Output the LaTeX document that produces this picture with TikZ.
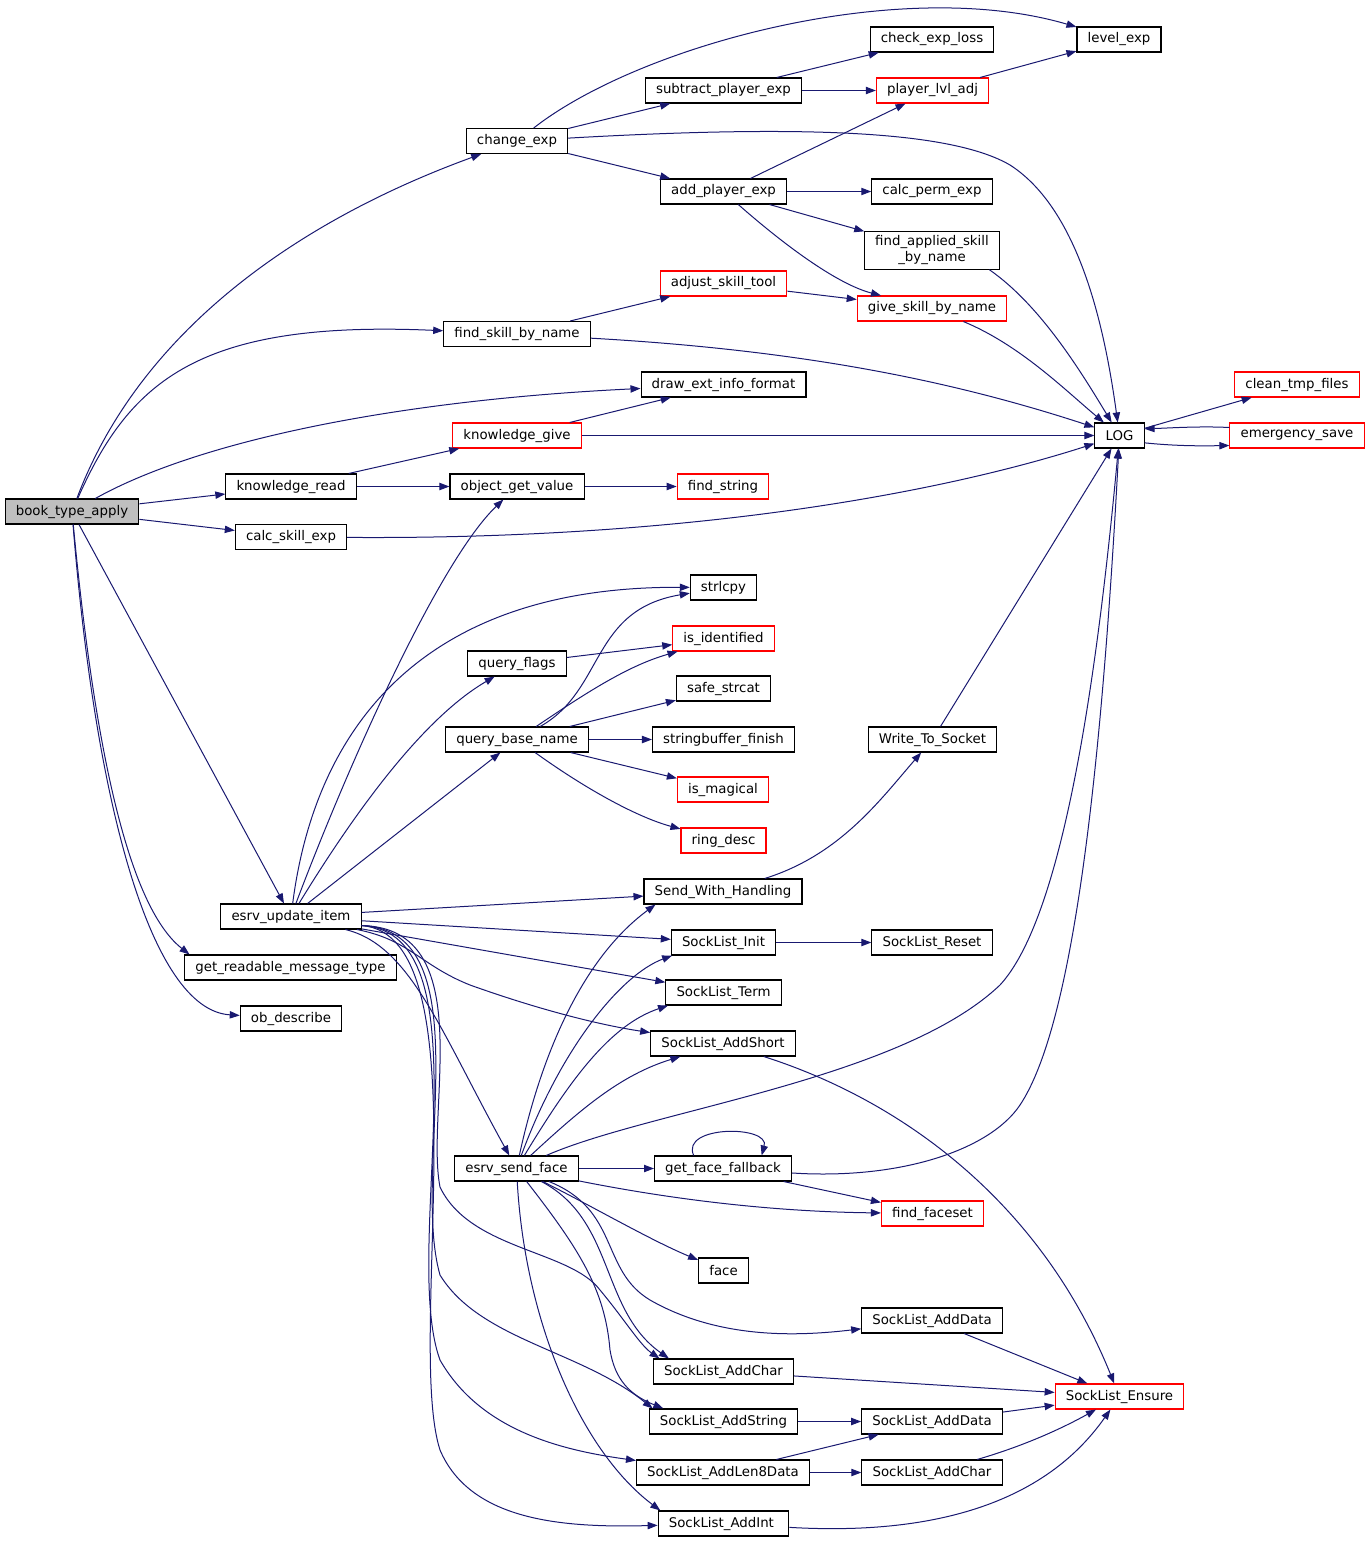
\documentclass[tikz,border=0pt]{standalone}
\usepackage{fontspec}
\setmainfont{DejaVu Sans}
\usetikzlibrary{arrows.meta}
\definecolor{edgeblue}{HTML}{191970}
\definecolor{rootgray}{HTML}{BFBFBF}

\begin{document}
\begin{tikzpicture}[x=0.75pt,y=-0.75pt,
  fn/.style={draw, line width=0.8pt, inner xsep=8pt, inner ysep=3pt,
    minimum height=18.75pt, align=center, font=\fontsize{10}{12}\selectfont},
  call/.style={draw=edgeblue, line width=0.75pt,
    -{Triangle[length=7.5pt,width=5.5pt]}}]
  \useasboundingbox (0,0) rectangle (1369,1543);

  % root
  \node[fn, fill=rootgray] (book) at (72,511.5) {book\_type\_apply};

  \foreach \n/\x/\y/\c/\t in {
    % experience
    changeexp/517/141/black/change\_exp,
    subexp/723.5/90.5/black/subtract\_player\_exp,
    checkloss/932/39.5/black/check\_exp\_loss,
    levelexp/1119/39.5/black/level\_exp,
    lvladj/932.5/90.5/red/player\_lvl\_adj,
    addexp/723.5/191.5/black/add\_player\_exp,
    permexp/932/191.5/black/calc\_perm\_exp,
    findapplied/932/250.5/black/{find\_applied\_skill\\\_by\_name},
    adjtool/723.5/283.5/red/adjust\_skill\_tool,
    giveskill/932/308.5/red/give\_skill\_by\_name,
    findskill/517/334/black/find\_skill\_by\_name,
    % knowledge
    drawinfo/723.5/384.5/black/draw\_ext\_info\_format,
    kgive/517/435.5/red/knowledge\_give,
    LOG/1119.5/435.5/black/LOG,
    cleantmp/1297/384.5/red/clean\_tmp\_files,
    emsave/1297/435.5/red/emergency\_save,
    kread/291/486.5/black/knowledge\_read,
    objval/517/486.5/black/object\_get\_value,
    findstr/723/486.5/red/find\_string,
    calcskill/291/537/black/calc\_skill\_exp,
    % item names
    strlcpy/723.5/587.5/black/strlcpy,
    isident/723.5/638.5/red/is\_identified,
    qflags/517/663.5/black/query\_flags,
    safestrcat/723.5/688.5/black/safe\_strcat,
    qbase/517/739.5/black/query\_base\_name,
    sbfinish/723.5/739.5/black/stringbuffer\_finish,
    wsocket/932.5/739.5/black/Write\_To\_Socket,
    ismagical/723/789.5/red/is\_magical,
    ringdesc/723.5/840.5/red/ring\_desc,
    % socket
    sendwh/723/891.5/black/Send\_With\_Handling,
    updateitem/291/916.5/black/esrv\_update\_item,
    slinit/723.5/942.5/black/SockList\_Init,
    slreset/932/942.5/black/SockList\_Reset,
    readmsg/290.5/967.5/black/get\_readable\_message\_type,
    slterm/723.5/992.5/black/SockList\_Term,
    obdesc/291/1018.5/black/ob\_describe,
    addshort/723/1043.5/black/SockList\_AddShort,
    sendface/516.5/1168.5/black/esrv\_send\_face,
    fallback/723/1168.5/black/get\_face\_fallback,
    faceset/932.5/1213.5/red/find\_faceset,
    face/723.5/1270.5/black/face,
    adddata1/932/1320.5/black/SockList\_AddData,
    addchar1/723.5/1371.5/black/SockList\_AddChar,
    ensure/1119.5/1396.5/red/SockList\_Ensure,
    addstring/723.5/1421.5/black/SockList\_AddString,
    adddata2/932/1421.5/black/SockList\_AddData,
    addlen8/723/1472.5/black/SockList\_AddLen8Data,
    addchar2/932/1472.5/black/SockList\_AddChar,
    addint/723.5/1523.5/black/SockList\_AddInt
  } { \node[fn, draw=\c] (\n) at (\x,\y) {\t}; }

  % straight calls
  \foreach \a/\b in {
    book/kread, book/calcskill, book/updateitem,
    changeexp/subexp, changeexp/addexp,
    subexp/checkloss, subexp/lvladj, lvladj/levelexp,
    addexp/lvladj, addexp/permexp, addexp/findapplied,
    findskill/adjtool, adjtool/giveskill,
    kgive/drawinfo, kgive/LOG, LOG/cleantmp,
    kread/kgive, kread/objval, objval/findstr,
    qflags/isident, qbase/safestrcat, qbase/sbfinish, qbase/ismagical,
    wsocket/LOG,
    updateitem/qbase, updateitem/sendwh, updateitem/slinit, updateitem/slterm,
    slinit/slreset,
    sendface/fallback, fallback/faceset,
    adddata1/ensure, addchar1/ensure, addstring/adddata2, adddata2/ensure,
    addlen8/adddata2, addlen8/addchar2%
  } { \draw[call] (\a) -- (\b); }

  % book_type_apply
  \draw[call] (book) .. controls (140,330) and (300,220) .. (changeexp);
  \draw[call] (book) .. controls (130,380) and (200,320) .. (findskill);
  \draw[call] (book) .. controls (200,440) and (400,400) .. (drawinfo);
  \draw[call] (book) .. controls (90,700) and (120,900) .. ([xshift=4pt]readmsg.north west);
  \draw[call] (book) .. controls (95,800) and (150,1010) .. (obdesc);

  % experience
  \draw[call] (changeexp) .. controls (640,45) and (900,-25) .. (levelexp);
  \draw[call] (changeexp) .. controls (800,125) and (950,130) .. (1010,165)
    .. controls (1080,210) and (1105,330) .. (LOG);
  \draw[call] (addexp) .. controls (790,250) and (840,285) .. (giveskill);
  \draw[call] ([xshift=-8pt]findapplied.south east) .. controls (1040,305) and (1080,370) .. (LOG);
  \draw[call] (findskill) .. controls (800,350) and (950,380) .. (LOG);
  \draw[call] (giveskill) .. controls (1020,345) and (1065,390) .. (LOG);
  \draw[call] ([yshift=6pt]emsave.west) .. controls (1200,426) and (1170,428) .. ([yshift=5pt]LOG.east);
  \draw[call] ([yshift=-5.5pt]LOG.east) .. controls (1175,446) and (1200,446) .. ([yshift=-7.5pt]emsave.west);
  \draw[call] (calcskill) .. controls (700,540) and (950,490) .. (LOG);

  % esrv_update_item
  \draw[call] (updateitem) .. controls (350,760) and (440,560) .. (objval);
  \draw[call] (updateitem) .. controls (315,730) and (420,586) .. (strlcpy);
  \draw[call] (updateitem) .. controls (350,820) and (420,720) .. (qflags);
  \draw[call] (updateitem) .. controls (410,940) and (420,965) .. (470,985)
    .. controls (540,1010) and (600,1025) .. (addshort);
  \draw[call] (updateitem) .. controls (410,945) and (440,1030) .. (sendface);
  \draw[call] ([yshift=3pt]updateitem.south east) .. controls (480,928) and (425,1110) .. (440,1187)
    .. controls (470,1250) and (570,1250) .. (600,1290)
    .. controls (625,1320) and (640,1345) .. ([xshift=5pt]addchar1.north west);
  \draw[call] ([yshift=3pt]updateitem.south east) .. controls (485,930) and (410,1170) .. (440,1275)
    .. controls (480,1340) and (580,1350) .. ([xshift=3pt]addstring.north west);
  \draw[call] ([yshift=3pt]updateitem.south east) .. controls (490,932) and (400,1250) .. (440,1360)
    .. controls (480,1430) and (560,1450) .. (addlen8);
  \draw[call] ([yshift=3pt]updateitem.south east) .. controls (485,935) and (405,1340) .. (440,1450)
    .. controls (470,1520) and (560,1528) .. (addint);

  % query_base_name
  \draw[call] (qbase) .. controls (605,690) and (590,610) .. (strlcpy);
  \draw[call] (qbase) .. controls (590,690) and (630,665) .. (isident);
  \draw[call] (qbase) .. controls (590,792) and (640,818) .. (ringdesc);

  % esrv_send_face
  \draw[call] (sendface) .. controls (540,1060) and (580,960) .. ([xshift=9pt]sendwh.south west);
  \draw[call] (sendface) .. controls (560,1050) and (620,975) .. ([xshift=1pt]slinit.south west);
  \draw[call] (sendface) .. controls (570,1080) and (610,1025) .. ([xshift=2pt]slterm.south west);
  \draw[call] (sendface) .. controls (580,1110) and (620,1075) .. (addshort);
  \draw[call] (sendface) .. controls (650,1110) and (900,1080) .. (1000,985)
    .. controls (1060,920) and (1095,700) .. (LOG);
  \draw[call] (sendface) .. controls (700,1205) and (800,1212) .. (faceset);
  \draw[call] (sendface) .. controls (590,1205) and (650,1240) .. (face);
  \draw[call] (sendface) .. controls (620,1210) and (600,1270) .. (650,1300)
    .. controls (720,1340) and (800,1336) .. (adddata1);
  \draw[call] (sendface) .. controls (615,1220) and (600,1310) .. ([xshift=12pt]addchar1.north west);
  \draw[call] (sendface) .. controls (580,1250) and (605,1290) .. (610,1350)
    .. controls (615,1380) and (630,1395) .. ([xshift=11pt]addstring.north west);
  \draw[call] (sendface) .. controls (525,1320) and (580,1450) .. ([xshift=2pt]addint.north west);

  % get_face_fallback
  \draw[call] ([xshift=-22pt]fallback.north) .. controls (680,1125) and (770,1125) .. ([xshift=29pt]fallback.north);
  \draw[call] (fallback) .. controls (900,1180) and (990,1150) .. (1020,1105)
    .. controls (1070,1030) and (1100,800) .. (LOG);

  % socket
  \draw[call] (sendwh) .. controls (840,855) and (880,800) .. (wsocket);
  \draw[call] (addshort) .. controls (900,1100) and (1040,1200) .. (ensure);
  \draw[call] (addchar2) .. controls (1010,1450) and (1050,1435) .. (ensure);
  \draw[call] (addint) .. controls (920,1535) and (1040,1510) .. (ensure);
\end{tikzpicture}
\end{document}
